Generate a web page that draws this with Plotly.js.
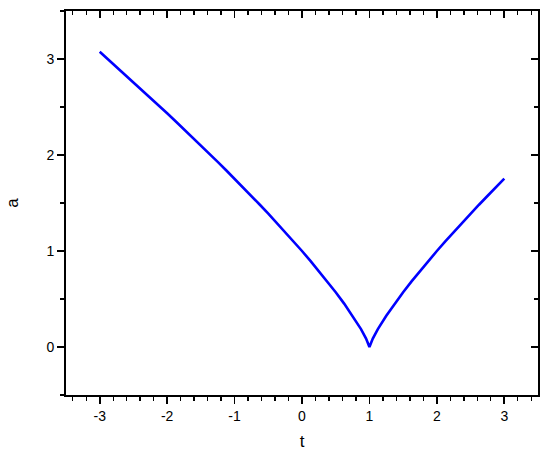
<!DOCTYPE html>
<html>
<head>
<meta charset="utf-8">
<script src="https://cdn.plot.ly/plotly-3.0.1.min.js"></script>
<style>
  body { margin: 0; background: #fff; }
  #plot { width: 550px; height: 457px; }
</style>
</head>
<body>
<div id="plot"></div>
<script>
// values
var t = [-3, -2.875, -2.75, -2.625, -2.5, -2.375, -2.25, -2.125, -2, -1.875, -1.75, -1.625,
         -1.5, -1.375, -1.25, -1.125, -1, -0.875, -0.75, -0.625, -0.5, -0.375, -0.25, -0.125,
         0, 0.125, 0.25, 0.375, 0.5, 0.625, 0.75, 0.875, 0.95, 1,
         1.05, 1.125, 1.25, 1.375, 1.5, 1.625, 1.75, 1.875, 2, 2.125, 2.25, 2.375,
         2.5, 2.625, 2.75, 2.875, 3];
var a = [3.075, 2.996, 2.917, 2.838, 2.759, 2.679, 2.598, 2.517, 2.435, 2.352, 2.269, 2.185,
         2.101, 2.015, 1.929, 1.841, 1.753, 1.664, 1.573, 1.482, 1.389, 1.294, 1.198, 1.100,
         1.000, 0.897, 0.792, 0.683, 0.570, 0.452, 0.325, 0.186, 0.088, 0.000,
         0.088, 0.186, 0.325, 0.452, 0.570, 0.683, 0.792, 0.897, 1.000, 1.100, 1.198, 1.294,
         1.389, 1.482, 1.573, 1.664, 1.753];

var xTicks = [-3, -2, -1, 0, 1, 2, 3];
var xLabels = ['-3', '-2', '-1', '0', '1', '2', '3'];
var yTicks = [0, 1, 2, 3];
var yLabels = ['0', '1', '2', '3'];

var curve = {
    x: t,
    y: a,
    type: 'scatter',
    mode: 'lines',
    line: { color: '#0000ff', width: 2.6 },
    hoverinfo: 'skip'
};

// empty trace so the mirrored top/right axes (ticks inside) get drawn
var mirror = {
    x: [],
    y: [],
    type: 'scatter',
    mode: 'lines',
    xaxis: 'x2',
    yaxis: 'y2',
    showlegend: false,
    hoverinfo: 'skip'
};

var font = { family: 'Liberation Sans, Arial, sans-serif', size: 14, color: '#000' };

var layout = {
    width: 550,
    height: 457,
    margin: { l: 66, r: 12, t: 11, b: 62 },
    showlegend: false,
    paper_bgcolor: '#fff',
    plot_bgcolor: '#fff',
    font: font,
    xaxis: {
        range: [-3.5, 3.5],
        tickvals: xTicks, ticktext: xLabels,
        ticks: 'outside', ticklen: 7, tickwidth: 1.6, tickcolor: '#000',
        tickfont: { family: font.family, size: 14, color: '#000' },
        minor: { dtick: 0.2, tick0: 0, ticks: 'outside', ticklen: 4, tickwidth: 1.4, tickcolor: '#000', showgrid: false },
        showline: true, linecolor: '#000', linewidth: 1.8,
        showgrid: false, zeroline: false,
        title: { text: 't', font: { family: font.family, size: 17, color: '#000' }, standoff: 12 }
    },
    yaxis: {
        range: [-0.5, 3.5],
        tickvals: yTicks, ticktext: yLabels,
        ticks: 'outside', ticklen: 7, tickwidth: 1.6, tickcolor: '#000',
        tickfont: { family: font.family, size: 14, color: '#000' },
        minor: { dtick: 0.5, tick0: 0, ticks: 'outside', ticklen: 4, tickwidth: 1.4, tickcolor: '#000', showgrid: false },
        showline: true, linecolor: '#000', linewidth: 1.8,
        showgrid: false, zeroline: false,
        title: { text: 'a', font: { family: font.family, size: 17, color: '#000' }, standoff: 24 }
    },
    xaxis2: {
        overlaying: 'x', side: 'top', anchor: 'y2',
        range: [-3.5, 3.5],
        tickvals: xTicks, showticklabels: false,
        ticks: 'inside', ticklen: 7, tickwidth: 1.6, tickcolor: '#000',
        minor: { dtick: 0.2, tick0: 0, ticks: 'inside', ticklen: 4, tickwidth: 1.4, tickcolor: '#000', showgrid: false },
        showline: true, linecolor: '#000', linewidth: 1.8,
        showgrid: false, zeroline: false
    },
    yaxis2: {
        overlaying: 'y', side: 'right', anchor: 'x2',
        range: [-0.5, 3.5],
        tickvals: yTicks, showticklabels: false,
        ticks: 'inside', ticklen: 7, tickwidth: 1.6, tickcolor: '#000',
        minor: { dtick: 0.5, tick0: 0, ticks: 'inside', ticklen: 4, tickwidth: 1.4, tickcolor: '#000', showgrid: false },
        showline: true, linecolor: '#000', linewidth: 1.8,
        showgrid: false, zeroline: false
    }
};

Plotly.newPlot('plot', [curve, mirror], layout, { displayModeBar: false, staticPlot: true });
</script>
</body>
</html>
